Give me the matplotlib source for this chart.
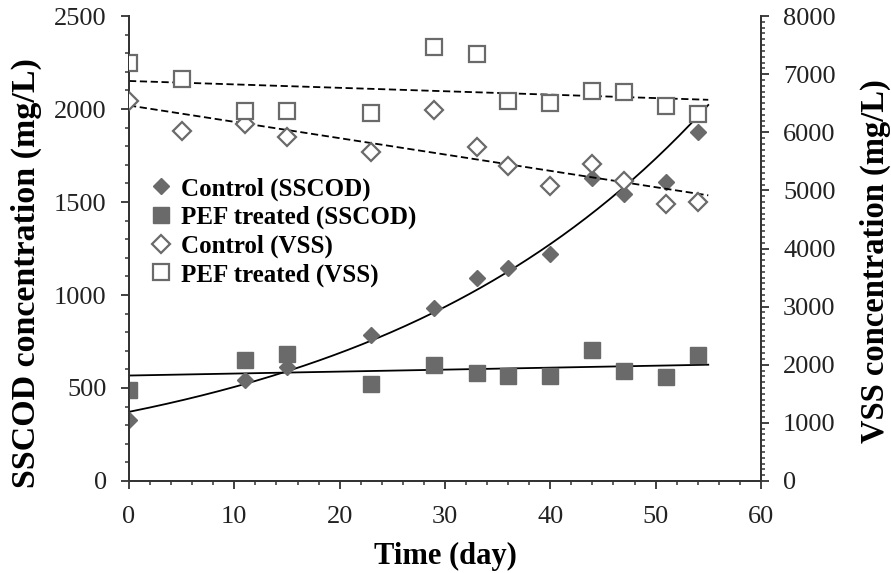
import matplotlib
matplotlib.use('Agg')
import matplotlib.pyplot as plt
from matplotlib.ticker import MultipleLocator
import numpy as np

plt.rcParams['font.family'] = ['Liberation Serif', 'DejaVu Serif']

# data
days_ctrl_sscod = [0, 11, 15, 23, 29, 33, 36, 40, 44, 47, 51, 54]
ctrl_sscod = [328, 543, 613, 785, 930, 1091, 1145, 1220, 1629, 1543, 1608, 1876]
days_pef_sscod = [0, 11, 15, 23, 29, 33, 36, 40, 44, 47, 51, 54]
pef_sscod = [489, 650, 683, 521, 624, 581, 565, 565, 704, 591, 559, 677]
days_vss = [0, 5, 11, 15, 23, 29, 33, 36, 40, 44, 47, 51, 54]
ctrl_vss = [6538, 6022, 6142, 5918, 5660, 6383, 5746, 5419, 5075, 5454, 5161, 4766, 4800]
pef_vss = [7191, 6916, 6366, 6366, 6331, 7467, 7346, 6538, 6503, 6710, 6692, 6452, 6314]

grey = '#6a6a6a'

fig = plt.figure(figsize=(8.91, 5.73), dpi=100)
ax = fig.add_axes([0.1448, 0.1606, 0.7092, 0.8114])
ax2 = ax.twinx()

# fitted trend lines
xfit = np.linspace(0, 55, 200)
b, ln_a = np.polyfit(days_ctrl_sscod, np.log(ctrl_sscod), 1)
ax.plot(xfit, np.exp(ln_a) * np.exp(b * xfit), color='black', lw=1.3, zorder=2)
p = np.polyfit(days_pef_sscod, pef_sscod, 1)
ax.plot(xfit, np.polyval(p, xfit), color='black', lw=1.3, zorder=2)
p = np.polyfit(days_vss, ctrl_vss, 1)
ax2.plot(xfit, np.polyval(p, xfit), color='black', lw=1.3, ls=(0, (4, 2)), zorder=2)
p = np.polyfit(days_vss, pef_vss, 1)
ax2.plot(xfit, np.polyval(p, xfit), color='black', lw=1.3, ls=(0, (4, 2)), zorder=2)

h1, = ax.plot(days_ctrl_sscod, ctrl_sscod, 'D', ms=8, color=grey, mec=grey, ls='none',
              label='Control (SSCOD)', zorder=3)
h2, = ax.plot(days_pef_sscod, pef_sscod, 's', ms=11, color=grey, mec=grey, ls='none',
              label='PEF treated (SSCOD)', zorder=3)
h3, = ax2.plot(days_vss, ctrl_vss, 'D', ms=9, mfc='white', mec=grey, mew=1.6, ls='none',
               label='Control (VSS)', zorder=3)
h4, = ax2.plot(days_vss, pef_vss, 's', ms=12, mfc='white', mec=grey, mew=1.6, ls='none',
               label='PEF treated (VSS)', zorder=3)

ax.set_xlim(0, 60)
ax.set_ylim(0, 2500)
ax2.set_ylim(0, 8000)
ax.xaxis.set_major_locator(MultipleLocator(10))
ax.xaxis.set_minor_locator(MultipleLocator(2))
ax.yaxis.set_major_locator(MultipleLocator(500))
ax.yaxis.set_minor_locator(MultipleLocator(100))
ax2.yaxis.set_major_locator(MultipleLocator(1000))
ax2.yaxis.set_minor_locator(MultipleLocator(100))

for a in (ax, ax2):
    a.spines['top'].set_visible(False)
    for s in a.spines.values():
        s.set_linewidth(1.3)
        s.set_color('#333333')
    a.tick_params(which='major', direction='out', length=6, width=1.3, labelsize=19,
                  colors='#333333', labelcolor='#222222')
    a.tick_params(which='minor', direction='out', length=3, width=1.1, colors='#333333')
ax.tick_params(axis='x', pad=12)
ax2.tick_params(axis='y', pad=10)
ax.tick_params(axis='y', pad=10)

ax.set_xlabel('Time (day)', fontsize=22, fontweight='bold', labelpad=10)
ax.set_ylabel('SSCOD concentration (mg/L)', fontsize=24.5, fontweight='bold')
ax2.set_ylabel('VSS concentration (mg/L)', fontsize=23.5, fontweight='bold')
ax.yaxis.set_label_coords(-0.138, 0.447)
ax2.yaxis.set_label_coords(1.157, 0.473)

ax.legend(handles=[h1, h2, h3, h4], loc='upper left', bbox_to_anchor=(0.015, 0.675),
          frameon=False, prop={'weight': 'bold', 'size': 18}, handletextpad=0.3,
          labelspacing=0.21, handlelength=1.0, borderaxespad=0)

ax2.set_zorder(ax.get_zorder() + 1)
ax.patch.set_visible(True)
ax2.patch.set_visible(False)

fig.savefig('out.png', dpi=100, facecolor='white')
